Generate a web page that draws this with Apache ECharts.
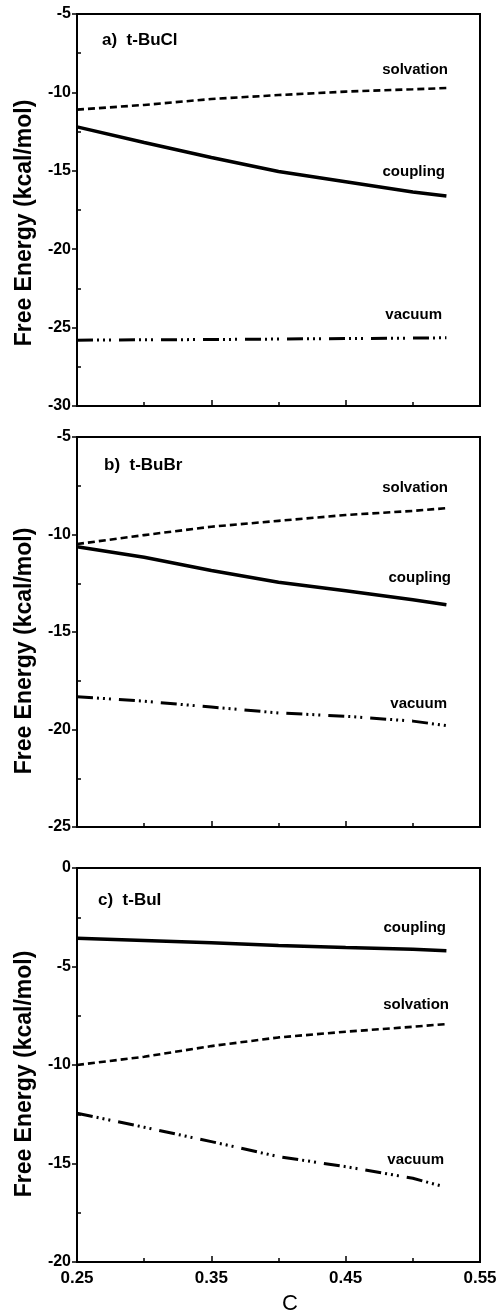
<!DOCTYPE html>
<html>
<head>
<meta charset="utf-8">
<script src="https://cdn.jsdelivr.net/npm/echarts@6/dist/echarts.min.js"></script>
<style>
html,body{margin:0;padding:0;background:#fff;}
#chart{width:503px;height:1315px;}
</style>
</head>
<body>
<div id="chart"></div>
<script>
const C = [0.25, 0.30, 0.35, 0.40, 0.45, 0.50, 0.525];
// panel a) t-BuCl
const solvA = [-11.1, -10.8, -10.42, -10.17, -9.95, -9.8, -9.72];
const coupA = [-12.2, -13.2, -14.15, -15.05, -15.7, -16.35, -16.6];
const vacA  = [-25.8, -25.78, -25.76, -25.73, -25.7, -25.67, -25.65];
// panel b) t-BuBr
const solvB = [-10.49, -10.03, -9.6, -9.3, -9.0, -8.79, -8.65];
const coupB = [-10.63, -11.17, -11.85, -12.45, -12.88, -13.35, -13.6];
const vacB  = [-18.32, -18.55, -18.85, -19.15, -19.32, -19.57, -19.8];
// panel c) t-BuI
const coupC = [-3.57, -3.68, -3.79, -3.93, -4.04, -4.13, -4.2];
const solvC = [-10.0, -9.58, -9.04, -8.6, -8.31, -8.06, -7.92];
const vacC  = [-12.45, -13.16, -13.89, -14.65, -15.16, -15.75, -16.21];

const panelTitles = ['a)  t-BuCl', 'b)  t-BuBr', 'c)  t-BuI'];
const yRanges = [[-30, -5], [-25, -5], [-20, 0]];
const xTickLabels = ['0.25', '0.35', '0.45', '0.55'];
const yTitle = 'Free Energy (kcal/mol)';
const xTitle = 'C';

const FONT = '"Liberation Sans", Arial, Helvetica, sans-serif';
const chart = echarts.init(document.getElementById('chart'), null, {renderer: 'canvas'});

const grids = [
  {left: 77, right: 23, top: 14, height: 392},
  {left: 77, right: 23, top: 437, height: 390},
  {left: 77, right: 23, top: 868, height: 394}
].map(g => Object.assign(g, {show: true, borderColor: '#000', borderWidth: 2, backgroundColor: 'transparent'}));

const xAxes = [0, 1, 2].map(i => ({
  type: 'value', gridIndex: i, position: 'bottom', min: 0.25, max: 0.55, interval: 0.1,
  axisLine: {show: true, onZero: false, lineStyle: {color: '#000', width: 2}},
  axisTick: {show: true, inside: true, length: 6, lineStyle: {color: '#000', width: 1.5}},
  minorTick: {show: true, splitNumber: 2, length: 4, lineStyle: {color: '#000', width: 1.5}},
  splitLine: {show: false}, minorSplitLine: {show: false},
  axisLabel: {
    show: i === 2, margin: 8, color: '#000', fontFamily: FONT, fontSize: 17, fontWeight: 'bold',
    formatter: v => xTickLabels[Math.round((v - 0.25) / 0.1)] || v.toFixed(2)
  }
}));

const yAxes = [];
[0, 1, 2].forEach(i => {
  yAxes.push({
    type: 'value', gridIndex: i, position: 'left', min: yRanges[i][0], max: yRanges[i][1], interval: 5,
    axisLine: {show: true, onZero: false, lineStyle: {color: '#000', width: 2}},
    axisTick: {show: true, inside: false, length: 5, lineStyle: {color: '#000', width: 1.5}},
    splitLine: {show: false},
    axisLabel: {show: true, margin: 6, color: '#000', fontFamily: FONT, fontSize: 16, fontWeight: 'bold',
      formatter: v => String(v)}
  });
  yAxes.push({
    type: 'value', gridIndex: i, position: 'left', min: yRanges[i][0], max: yRanges[i][1], interval: 5,
    axisLine: {show: false, onZero: false},
    axisTick: {show: false, inside: true},
    minorTick: {show: true, splitNumber: 2, length: 4, lineStyle: {color: '#000', width: 1.5}},
    splitLine: {show: false}, minorSplitLine: {show: false},
    axisLabel: {show: false}
  });
});

const solidStyle = {color: '#000', width: 3.5, type: 'solid'};
const dashStyle = {color: '#000', width: 2.6, type: [7, 4]};
const dddStyle = {color: '#000', width: 3, type: [16, 4, 2, 4, 2, 4, 2, 8]};

function ser(name, gi, vals, style) {
  return {
    name: name, type: 'line', xAxisIndex: gi, yAxisIndex: gi * 2,
    data: C.map((c, k) => [c, vals[k]]),
    showSymbol: false, symbol: 'none', smooth: false, silent: true,
    lineStyle: style, z: 5
  };
}

const series = [
  ser('solvation', 0, solvA, dashStyle),
  ser('coupling', 0, coupA, solidStyle),
  ser('vacuum', 0, vacA, dddStyle),
  ser('solvation', 1, solvB, dashStyle),
  ser('coupling', 1, coupB, solidStyle),
  ser('vacuum', 1, vacB, dddStyle),
  ser('coupling', 2, coupC, solidStyle),
  ser('solvation', 2, solvC, dashStyle),
  ser('vacuum', 2, vacC, dddStyle)
];

function txt(text, x, y, size, align, opts) {
  return Object.assign({
    type: 'text', x: x, y: y, z: 10,
    style: {text: text, fill: '#000', font: 'bold ' + size + 'px ' + FONT, align: align || 'left', verticalAlign: 'middle'}
  }, opts || {});
}

const graphics = [
  txt(panelTitles[0], 102, 40, 17, 'left'),
  txt(panelTitles[1], 104, 465, 17, 'left'),
  txt(panelTitles[2], 98, 900, 17, 'left'),
  // series labels
  txt('solvation', 448, 70, 15, 'right'),
  txt('coupling', 445, 172, 15, 'right'),
  txt('vacuum', 442, 315, 15, 'right'),
  txt('solvation', 448, 488, 15, 'right'),
  txt('coupling', 451, 578, 15, 'right'),
  txt('vacuum', 447, 704, 15, 'right'),
  txt('coupling', 446, 928, 15, 'right'),
  txt('solvation', 449, 1005, 15, 'right'),
  txt('vacuum', 444, 1160, 15, 'right'),
  // axis titles
  txt(yTitle, 25, 223, 23, 'center', {rotation: Math.PI / 2}),
  txt(yTitle, 25, 651, 23, 'center', {rotation: Math.PI / 2}),
  txt(yTitle, 25, 1074, 23, 'center', {rotation: Math.PI / 2}),
  {type: 'text', x: 290, y: 1304, z: 10,
   style: {text: xTitle, fill: '#000', font: '22px ' + FONT, align: 'center', verticalAlign: 'middle'}}
];

chart.setOption({
  animation: false,
  backgroundColor: '#fff',
  grid: grids,
  xAxis: xAxes,
  yAxis: yAxes,
  series: series,
  graphic: graphics
});
</script>
</body>
</html>
